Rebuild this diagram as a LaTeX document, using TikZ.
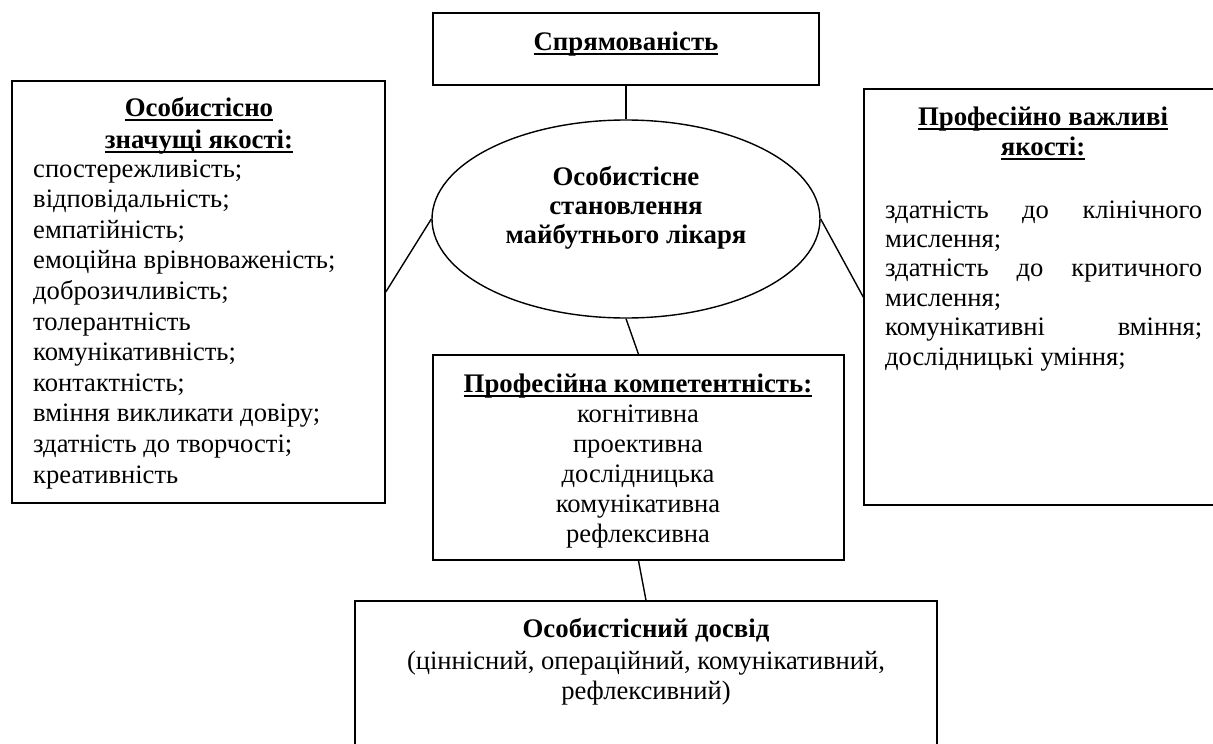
\documentclass[tikz,border=0pt]{standalone}
\usepackage{fontspec}
\setmainfont{Liberation Serif}
\usetikzlibrary{shapes.geometric}
\newcommand\myul[1]{\setbox0=\hbox{#1}\rlap{\rule[-4.5pt]{\wd0}{2pt}}\box0}
\begin{document}
\begin{tikzpicture}[x=1pt,y=-1pt,
  box/.style={draw,line width=1.5pt,rectangle,inner sep=0pt},
  txt/.style={font=\fontsize{26.6}{30}\selectfont, inner sep=0pt},
  bt/.style={font=\fontsize{26.8}{30}\selectfont\bfseries, inner sep=0pt},
  conn/.style={line width=1.4pt}]
\clip (0,0) rectangle (1213,744);
\fill[white] (0,0) rectangle (1213,744);
% boxes
\node[box, minimum width=386pt, minimum height=72pt] (top) at (626,49) {};
\node[draw, ellipse, line width=1.4pt, minimum width=388pt, minimum height=198pt, inner sep=0pt] (ell) at (626,219) {};
\node[box, minimum width=373pt, minimum height=422pt] (lbox) at (198.5,292) {};
\node[box, minimum width=400pt, minimum height=416pt] (rbox) at (1064,297) {};
\node[box, minimum width=411pt, minimum height=205pt] (mbox) at (638.5,457.5) {};
\node[box, minimum width=582pt, minimum height=180pt] (bbox) at (646,691) {};
% connectors
\draw[conn] (top.south) -- (ell.north);
\draw[conn] (ell.west) -- (lbox.east);
\draw[conn] (ell.east) -- (rbox.west);
\draw[conn] (ell.south) -- (mbox.north);
\draw[conn] (mbox.south) -- (bbox.north);
% top text
\node[bt, anchor=base] (ttop) at (626,50) {\myul{Спрямованість}};
% ellipse text
\node[bt, anchor=base] (e1) at (626,185) {Особистісне};
\node[bt, anchor=base] (e2) at (626,214) {становлення};
\node[bt, anchor=base] (e3) at (626,243) {майбутнього лікаря};
% left box text
\node[bt, anchor=base] (lt1) at (199,116) {\myul{Особистісно}};
\node[bt, anchor=base] (lt2) at (199,148) {\myul{значущі якості:}};
\foreach \t [count=\i] in {{спостережливість;},{відповідальність;},{емпатійність;},{емоційна врівноваженість;},{доброзичливість;},{толерантність},{комунікативність;},{контактність;},{вміння викликати довіру;},{здатність до творчості;},{креативність}}
  \node[txt, anchor=base west] (li\i) at (33,{177+30.6*(\i-1)}) {\t};
% right box text
\node[bt, anchor=base] (rt1) at (1043,125) {\myul{Професійно важливі}};
\node[bt, anchor=base] (rt2) at (1043,155) {\myul{якості:}};
\foreach \t [count=\i] in {{\hbox to 317pt{здатність\hfill до\hfill клінічного}},{мислення;},{\hbox to 317pt{здатність\hfill до\hfill критичного}},{мислення;},{\hbox to 317pt{комунікативні\hfill вміння;}},{дослідницькі уміння;}}
  \node[txt, anchor=base west] (ri\i) at (885,{218+29.4*(\i-1)}) {\t};
% middle box text
\node[bt, anchor=base] (mt) at (638,392) {\myul{Професійна компетентність:}};
\foreach \t [count=\i] in {когнітивна,проективна,дослідницька,комунікативна,рефлексивна}
  \node[txt, anchor=base] (mi\i) at (638,{422+30*(\i-1)}) {\t};
% bottom box text
\node[bt, anchor=base] (bt1) at (646,637) {Особистісний досвід};
\node[txt, anchor=base] (bt2) at (646,669) {(ціннісний, операційний, комунікативний,};
\node[txt, anchor=base] (bt3) at (646,699) {рефлексивний)};
\end{tikzpicture}
\end{document}
